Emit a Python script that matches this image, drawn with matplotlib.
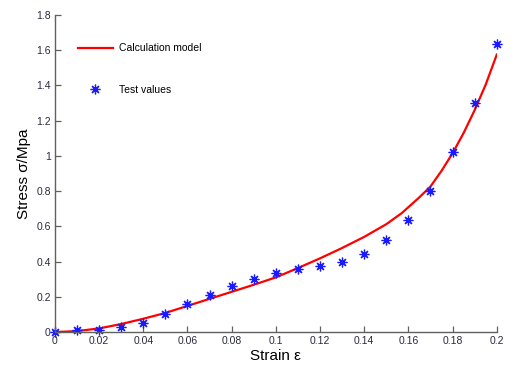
import matplotlib
matplotlib.use('Agg')
import matplotlib.pyplot as plt

# test values
test_strain = [0.0, 0.01, 0.02, 0.03, 0.04, 0.05, 0.06, 0.07, 0.08, 0.09, 0.10,
               0.11, 0.12, 0.13, 0.14, 0.15, 0.16, 0.17, 0.18, 0.19, 0.20]
test_stress = [0.0, 0.01, 0.01, 0.03, 0.05, 0.10, 0.16, 0.21, 0.26, 0.30, 0.335,
               0.36, 0.375, 0.40, 0.44, 0.52, 0.635, 0.80, 1.02, 1.30, 1.635]

# calculation model curve
model_strain = [0.0, 0.005, 0.01, 0.02, 0.03, 0.04, 0.05, 0.06, 0.07, 0.08, 0.09, 0.10,
                0.11, 0.12, 0.13, 0.14, 0.15, 0.157, 0.165, 0.17, 0.175, 0.18, 0.185,
                0.19, 0.195, 0.20]
model_stress = [0.0, 0.002, 0.005, 0.02, 0.045, 0.075, 0.108, 0.148, 0.188, 0.228, 0.268, 0.31,
                0.363, 0.418, 0.477, 0.54, 0.612, 0.675, 0.765, 0.826, 0.915, 1.015, 1.13,
                1.26, 1.405, 1.575]

x_ticks = [0, 0.02, 0.04, 0.06, 0.08, 0.1, 0.12, 0.14, 0.16, 0.18, 0.2]
x_tick_labels = ['0', '0.02', '0.04', '0.06', '0.08', '0.1', '0.12', '0.14', '0.16', '0.18', '0.2']
y_ticks = [0, 0.2, 0.4, 0.6, 0.8, 1.0, 1.2, 1.4, 1.6, 1.8]
y_tick_labels = ['0', '0.2', '0.4', '0.6', '0.8', '1', '1.2', '1.4', '1.6', '1.8']

plt.rcParams['font.family'] = ['Liberation Sans', 'DejaVu Sans']

fig = plt.figure(figsize=(5.18, 3.66), dpi=100)
ax = fig.add_axes([0.106, 0.093, 0.853, 0.866])

ax.plot(model_strain, model_stress, color='#ff0000', lw=1.6, label='Calculation model')
ax.plot(test_strain, test_stress, ls='none', marker=(8, 2, 0), ms=7, mew=0.9,
        color='#1a1aff', label='Test values', clip_on=False)

ax.set_xlim(0, 0.2)
ax.set_ylim(0, 1.8)
ax.set_xticks(x_ticks)
ax.set_xticklabels(x_tick_labels)
ax.set_yticks(y_ticks)
ax.set_yticklabels(y_tick_labels)

for side in ('top', 'right'):
    ax.spines[side].set_visible(False)
for side in ('left', 'bottom'):
    ax.spines[side].set_color('#606060')
    ax.spines[side].set_linewidth(1.0)
ax.tick_params(direction='in', length=4, width=0.9, color='#606060',
               labelsize=7.5, labelcolor='#2a2a40', pad=3)

ax.set_xlabel('Strain ε', fontsize=11, labelpad=2)
ax.set_ylabel('Stress σ/Mpa', fontsize=11, labelpad=4)

ax.legend(loc='upper left', bbox_to_anchor=(0.03, 0.94), frameon=False,
          fontsize=7.5, handlelength=3.4, labelspacing=3.0, handletextpad=0.6)

fig.savefig('out.png', dpi=100)
